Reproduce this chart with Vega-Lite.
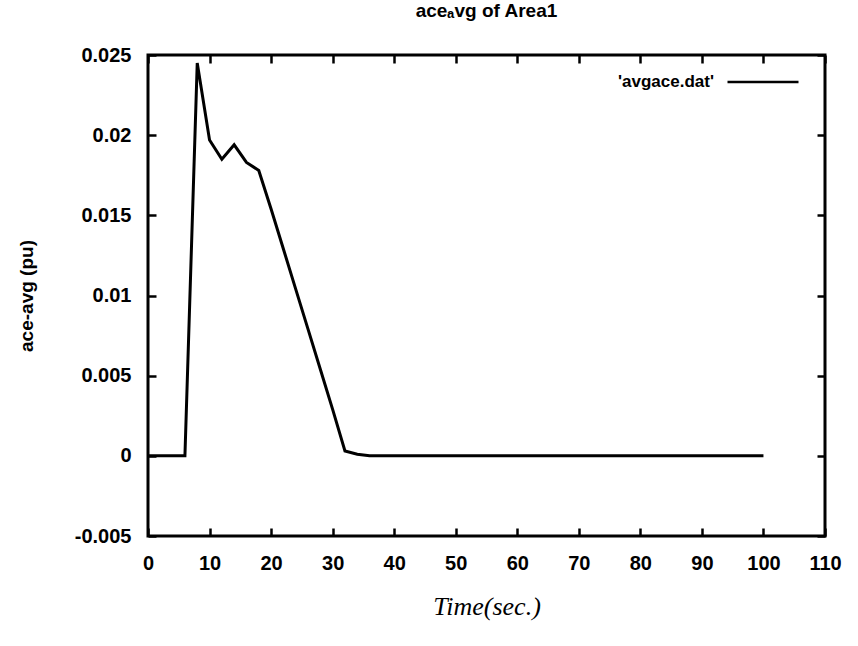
{
  "$schema": "https://vega.github.io/schema/vega-lite/v6.json",
  "width": 677,
  "height": 481,
  "autosize": {"type": "none"},
  "padding": {"left": 148, "top": 55, "right": 33, "bottom": 110},
  "background": "white",
  "title": {"text": "aceₐvg of Area1", "fontSize": 19, "font": "Liberation Sans", "fontWeight": "bold", "offset": 24, "color": "black"},
  "data": {"values": [
    {"t": 0, "ace": 0, "series": "'avgace.dat'"},
    {"t": 2, "ace": 0, "series": "'avgace.dat'"},
    {"t": 4, "ace": 0, "series": "'avgace.dat'"},
    {"t": 6, "ace": 0, "series": "'avgace.dat'"},
    {"t": 8, "ace": 0.0245, "series": "'avgace.dat'"},
    {"t": 10, "ace": 0.0197, "series": "'avgace.dat'"},
    {"t": 12, "ace": 0.0185, "series": "'avgace.dat'"},
    {"t": 14, "ace": 0.0194, "series": "'avgace.dat'"},
    {"t": 16, "ace": 0.0183, "series": "'avgace.dat'"},
    {"t": 18, "ace": 0.0178, "series": "'avgace.dat'"},
    {"t": 20, "ace": 0.0154, "series": "'avgace.dat'"},
    {"t": 22, "ace": 0.0129, "series": "'avgace.dat'"},
    {"t": 24, "ace": 0.0104, "series": "'avgace.dat'"},
    {"t": 26, "ace": 0.0079, "series": "'avgace.dat'"},
    {"t": 28, "ace": 0.0054, "series": "'avgace.dat'"},
    {"t": 30, "ace": 0.0029, "series": "'avgace.dat'"},
    {"t": 32, "ace": 0.0003, "series": "'avgace.dat'"},
    {"t": 34, "ace": 0.0001, "series": "'avgace.dat'"},
    {"t": 36, "ace": 0, "series": "'avgace.dat'"},
    {"t": 40, "ace": 0, "series": "'avgace.dat'"},
    {"t": 50, "ace": 0, "series": "'avgace.dat'"},
    {"t": 60, "ace": 0, "series": "'avgace.dat'"},
    {"t": 70, "ace": 0, "series": "'avgace.dat'"},
    {"t": 80, "ace": 0, "series": "'avgace.dat'"},
    {"t": 90, "ace": 0, "series": "'avgace.dat'"},
    {"t": 100, "ace": 0, "series": "'avgace.dat'"}
  ]},
  "layer": [
    {
      "mark": {"type": "line", "strokeWidth": 3},
      "encoding": {
        "x": {"field": "t", "type": "quantitative",
          "scale": {"domain": [0, 110], "nice": false, "zero": false},
          "axis": {"orient": "bottom", "values": [0,10,20,30,40,50,60,70,80,90,100,110], "title": "Time(sec.)",
            "titleFont": "Liberation Serif", "titleFontStyle": "italic", "titleFontWeight": "normal", "titleFontSize": 26,
            "titlePadding": 20}},
        "y": {"field": "ace", "type": "quantitative",
          "scale": {"domain": [-0.005, 0.025], "nice": false, "zero": false},
          "axis": {"orient": "left", "values": [-0.005,0,0.005,0.01,0.015,0.02,0.025], "title": "ace-avg (pu)",
            "labelExpr": "replace(format(datum.value, '.3~f'), '−', '-')",
            "titleFontSize": 19, "titlePadding": 38}},
        "stroke": {"field": "series", "type": "nominal", "scale": {"range": ["black"]},
          "legend": {"title": null, "orient": "none", "legendX": 470, "legendY": -10,
            "symbolType": "stroke", "symbolSize": 5041, "symbolStrokeWidth": 2.5,
            "symbolOffset": 108, "labelOffset": -182, "labelFontSize": 17, "labelFont": "Liberation Sans",
            "labelFontWeight": "bold", "labelColor": "black"}}
      }
    },
    {
      "mark": {"type": "line", "strokeWidth": 3, "opacity": 0, "color": "black"},
      "encoding": {
        "x": {"field": "t", "type": "quantitative",
          "scale": {"domain": [0, 110], "nice": false, "zero": false},
          "axis": {"orient": "top", "values": [0,10,20,30,40,50,60,70,80,90,100,110], "labels": false, "title": null}},
        "y": {"field": "ace", "type": "quantitative",
          "scale": {"domain": [-0.005, 0.025], "nice": false, "zero": false},
          "axis": {"orient": "right", "values": [-0.005,0,0.005,0.01,0.015,0.02,0.025], "labels": false, "title": null}}
      }
    }
  ],
  "resolve": {"scale": {"x": "independent", "y": "independent"}, "axis": {"x": "independent", "y": "independent"}},
  "config": {
    "view": {"stroke": "black", "strokeWidth": 3},
    "axis": {
      "domain": false, "grid": false,
      "ticks": true, "tickSize": -8, "tickWidth": 2.5, "tickColor": "black",
      "labelFont": "Liberation Sans", "labelFontWeight": "bold", "labelFontSize": 20, "labelColor": "black",
      "labelPadding": 25, "labelFlush": false, "labelOverlap": false,
      "titleFont": "Liberation Sans", "titleFontWeight": "bold", "titleColor": "black"
    }
  }
}
